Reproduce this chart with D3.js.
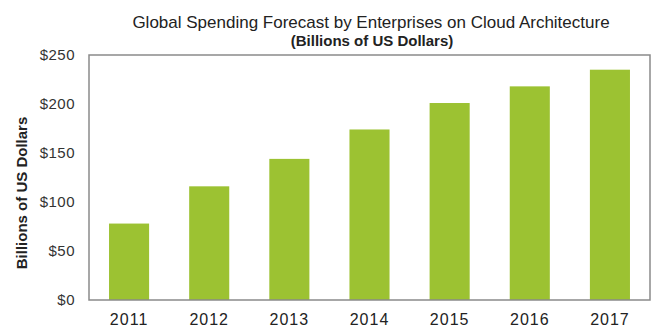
<!DOCTYPE html>
<html>
<head>
<meta charset="utf-8">
<script src="https://cdn.jsdelivr.net/npm/d3@7"></script>
<style>
  html, body { margin: 0; padding: 0; background: #fff; }
  svg { display: block; }
</style>
</head>
<body>
<svg id="chart" width="659" height="333"></svg>
<script>
const years = ["2011", "2012", "2013", "2014", "2015", "2016", "2017"];
const spending = [78, 116, 144, 174, 201, 218, 235];
const yTicks = [0, 50, 100, 150, 200, 250];
const titleLines = ["Global Spending Forecast by Enterprises on Cloud Architecture", "(Billions of US Dollars)"];
const yAxisTitle = "Billions of US Dollars";

const W = 659, H = 333;
const margin = { left: 89, right: 9, top: 55, bottom: 32 };
const svg = d3.select("#chart");
const font = "'Liberation Sans Narrow', 'Arial Narrow', 'Liberation Sans', sans-serif";

const x = d3.scaleBand().domain(years).range([margin.left, W - margin.right]).paddingInner(0.5).paddingOuter(0.25);
const y = d3.scaleLinear().domain([0, 250]).range([H - margin.bottom - 1, margin.top]);

// bars
svg.append("g").selectAll("rect").data(years).join("rect")
  .attr("x", d => x(d))
  .attr("width", x.bandwidth())
  .attr("y", (d, i) => y(spending[i]))
  .attr("height", (d, i) => y(0) - y(spending[i]))
  .attr("fill", "#9cc232");

// frame
svg.append("rect")
  .attr("x", margin.left).attr("y", margin.top)
  .attr("width", W - margin.right - margin.left)
  .attr("height", y(0) - margin.top)
  .attr("fill", "none").attr("stroke", "#8a8a8a").attr("stroke-width", 1.5);

// y axis
const yAxis = d3.axisLeft(y).tickValues(yTicks).tickFormat(d => "$" + d).tickSize(0).tickPadding(14);
const gy = svg.append("g").attr("transform", `translate(${margin.left},0)`).call(yAxis);
gy.select(".domain").remove();
gy.selectAll("text").attr("font-family", font).attr("font-size", 15).attr("fill", "#333").attr("letter-spacing", 0.5);

// x axis
const xAxis = d3.axisBottom(x).tickSize(0).tickPadding(14);
const gx = svg.append("g").attr("transform", `translate(0,${y(0)})`).call(xAxis);
gx.select(".domain").remove();
gx.selectAll("text").attr("font-family", font).attr("font-size", 16).attr("fill", "#222").attr("letter-spacing", 1);

// titles
svg.append("text").attr("x", 371).attr("y", 28).attr("text-anchor", "middle")
  .attr("font-family", font).attr("font-size", 17).attr("fill", "#222")
  .text(titleLines[0]);
svg.append("text").attr("x", 372).attr("y", 46).attr("text-anchor", "middle")
  .attr("font-family", font).attr("font-size", 15).attr("font-weight", "bold").attr("fill", "#222")
  .text(titleLines[1]);

// y-axis title
svg.append("text")
  .attr("transform", `translate(27,193) rotate(-90)`)
  .attr("text-anchor", "middle")
  .attr("font-family", font).attr("font-size", 15).attr("font-weight", "bold").attr("fill", "#222")
  .text(yAxisTitle);
</script>
</body>
</html>
